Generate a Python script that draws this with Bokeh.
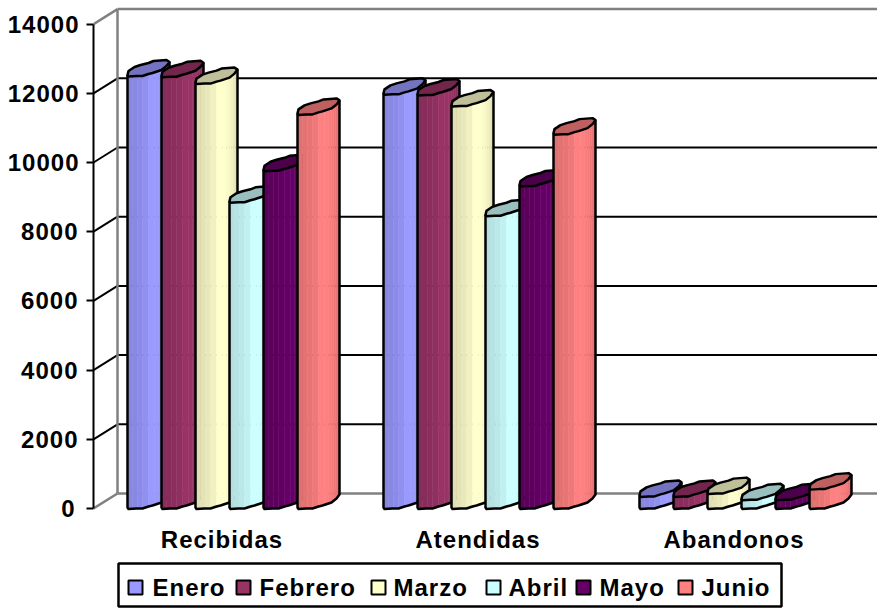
import numpy as np
from bokeh.plotting import figure
from bokeh.models import Range1d, LinearAxis, FixedTicker
from bokeh.core.properties import value
from bokeh.embed import file_html
from bokeh.resources import INLINE

categories = ["Recibidas", "Atendidas", "Abandonos"]
months = ["Enero", "Febrero", "Marzo", "Abril", "Mayo", "Junio"]
enero = [12500, 11970, 350]
febrero = [12480, 11950, 350]
marzo = [12280, 11630, 430]
abril = [8850, 8460, 250]
mayo = [9760, 9320, 250]
junio = [11390, 10820, 560]
series = [enero, febrero, marzo, abril, mayo, junio]
colors = ["#9999FF", "#993366", "#FFFFCC", "#CCFFFF", "#660066", "#FF8080"]
y_ticks = [0, 2000, 4000, 6000, 8000, 10000, 12000, 14000]

# layout (pixels on the page)
W, H = 877, 608
LEFT = 93
Y0 = 508.0
K = 0.0346          # pixels per unit
DX, DY = 24, 15     # depth of the 3D box
FONT = "Liberation Sans"

def dv(px):
    return px / K

def vy(px_y):
    return (Y0 - px_y) / K

p = figure(width=W, height=H, output_backend="svg", toolbar_location=None,
           x_range=Range1d(LEFT, W), y_range=Range1d(vy(H), vy(0)),
           x_axis_type=None, y_axis_type=None,
           min_border_left=LEFT, min_border_right=0, min_border_top=0, min_border_bottom=0,
           margin=(0, 0, 0, 0), outline_line_color=None, background_fill_color="white")
p.xgrid.visible = False
p.ygrid.visible = False
p.styles = {"letter-spacing": "1px"}

GRAY = "#808080"
# back wall
inner = y_ticks[1:-1]
p.multi_line([[LEFT + DX, W] for _ in inner], [[t + dv(DY)] * 2 for t in inner],
             line_color="black", line_width=2)
p.multi_line([[LEFT, LEFT + DX] for _ in inner], [[t, t + dv(DY)] for t in inner],
             line_color="black", line_width=2)
edge = [y_ticks[0], y_ticks[-1]]
p.multi_line([[LEFT + DX, W] for _ in edge], [[t + dv(DY)] * 2 for t in edge],
             line_color=GRAY, line_width=2.5)
p.multi_line([[LEFT, LEFT + DX] for _ in edge], [[t, t + dv(DY)] for t in edge],
             line_color=GRAY, line_width=2.5)
p.line([LEFT + DX] * 2, [edge[0] + dv(DY), edge[1] + dv(DY)], line_color=GRAY, line_width=2.5)

# y axis
ax = LinearAxis(ticker=FixedTicker(ticks=y_ticks), bounds=(0, 14000))
ax.axis_line_color = "black"
ax.axis_line_width = 2
ax.major_tick_line_color = "black"
ax.major_tick_line_width = 2
ax.major_tick_out = 7
ax.major_tick_in = 0
ax.minor_tick_out = 0
ax.minor_tick_in = 0
ax.major_label_standoff = 12
ax.major_label_text_font = FONT
ax.major_label_text_font_style = "bold"
ax.major_label_text_font_size = "24px"
ax.major_label_text_color = "black"
p.add_layout(ax, "left")

# cylinder cross-section, pixels around its centre (y down)
upper = [(-21, 7), (-20, 3), (-14, -1), (-8, -3), (0, -5), (5, -7), (18, -8), (21, -6)]
lower = [(21, -6), (18, -2), (13, 2), (4, 5), (0, 6), (-6, 8), (-12, 8), (-20, 8.5), (-21, 7)]
low_x = np.array([q[0] for q in lower][::-1], float)
low_y = np.array([q[1] for q in lower][::-1], float)
stripe_x = np.array([-21, -16, -11, -6, 0, 6, 10, 13, 15, 17, 19, 21], float)
stripe_shade = [0.88, 0.89, 0.91, 0.94, 1.0, 1.0, 0.98, 0.96, 0.94, 0.91, 0.87]
CAP_SHADE = 0.75

def shade(c, f):
    r, g, b = (int(c[i:i + 2], 16) for i in (1, 3, 5))
    return "#%02x%02x%02x" % (round(r * f), round(g * f), round(b * f))

GROUP_X0 = 148
GROUP_STEP = 256
BAR_STEP = 34
BASE_PX = 8  # centre of the cylinder base above the front floor edge

for g in range(len(categories)):
    for s, vals in enumerate(series):
        cx = GROUP_X0 + g * GROUP_STEP + s * BAR_STEP
        top = vals[g] + dv(BASE_PX)
        base = dv(BASE_PX)
        col = colors[s]
        # body stripes
        xs, ys, fills = [], [], []
        for i, f in enumerate(stripe_shade):
            a, b = stripe_x[i], stripe_x[i + 1]
            la = np.interp(a, low_x, low_y)
            lb = np.interp(b, low_x, low_y)
            xs.append([cx + a, cx + b, cx + b, cx + a])
            ys.append([top - dv(la), top - dv(lb), base - dv(lb), base - dv(la)])
            fills.append(shade(col, f))
        p.patches(xs, ys, fill_color=fills, line_color=fills, line_width=0.5)
        # body outline
        bx = [cx + q[0] for q in lower]
        by = [base - dv(q[1]) for q in lower]
        ox = [cx - 21] + bx[::-1] + [cx + 21]
        oy = [top - dv(7)] + by[::-1] + [top - dv(-6)]
        p.line(ox, oy, line_color="black", line_width=2.5, line_join="round")
        # cap
        cap = upper + lower[1:]
        p.patch([cx + q[0] for q in cap], [top - dv(q[1]) for q in cap],
                fill_color=shade(col, CAP_SHADE), line_color="black",
                line_width=2.5, line_join="round")

# category labels
cat_x = [GROUP_X0 + 69 + g * GROUP_STEP for g in range(len(categories))]
p.text(cat_x, [vy(539)] * 3, text=categories, text_font=value(FONT), text_font_style="bold",
       text_font_size="24px", text_color="black", text_align="center", text_baseline="middle")

# legend
p.quad(left=[118], right=[781], top=[vy(563)], bottom=[vy(606)], fill_color="white",
       line_color="black", line_width=2.5)
sw_x = [128, 236, 371, 486, 576, 678]
lab_x = [152, 259, 393, 508, 599, 701]
SW = 14
p.quad(left=sw_x, right=[x + SW for x in sw_x], top=[vy(580)] * 6, bottom=[vy(594)] * 6,
       fill_color=colors, line_color="black", line_width=2)
p.text(lab_x, [vy(587)] * 6, text=months, text_font=value(FONT), text_font_style="bold",
       text_font_size="24px", text_color="black", text_align="left", text_baseline="middle")

open("out.html", "w").write(file_html(p, INLINE))
